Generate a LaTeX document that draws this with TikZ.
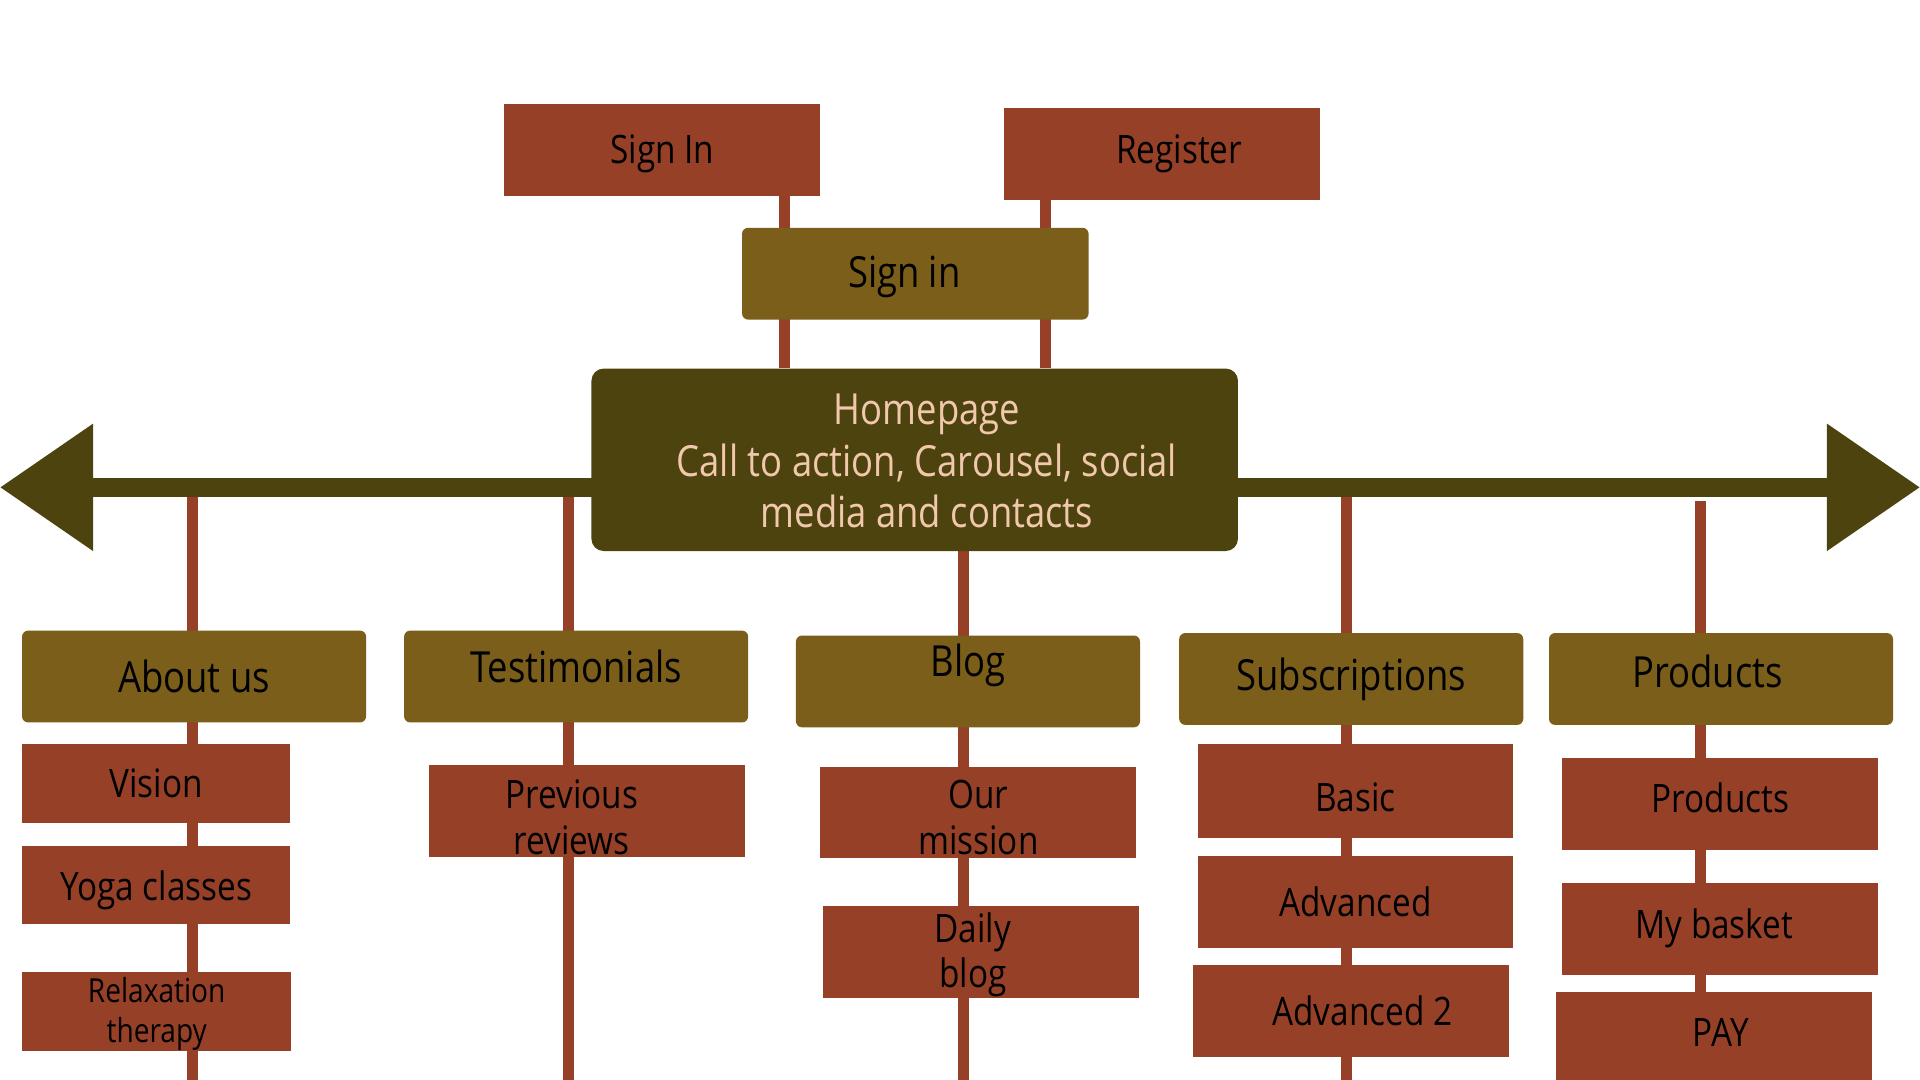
\documentclass[tikz,border=0pt]{standalone}
\usepackage{fontspec}
\setmainfont{Open Sans}[FakeStretch=0.85]
\usetikzlibrary{arrows.meta, backgrounds}

\definecolor{rust}{RGB}{150,64,40}
\definecolor{olive}{RGB}{122,94,26}
\definecolor{darkolive}{RGB}{77,67,15}
\definecolor{peach}{RGB}{242,200,172}

\begin{document}
\begin{tikzpicture}[x=1pt, y=-1pt,
   redtext/.style={align=center, font=\fontsize{32}{37}\selectfont},
   cattext/.style={align=center, font=\fontsize{35}{42}\selectfont},
   redbox/.style={redtext, fill=rust, inner sep=0pt, minimum width=258pt, minimum height=75pt},
   olivebox/.style={cattext, fill=olive, rounded corners=5pt, inner sep=0pt, minimum width=281pt, minimum height=75pt},
   homebox/.style={cattext, fill=darkolive, rounded corners=10pt, inner sep=0pt, minimum width=528pt, minimum height=149pt},
   link/.style={draw=rust, line width=9pt},
   bar/.style={draw=darkolive, line width=15pt, {Triangle[length=76pt,width=100pt]}-{Triangle[length=76pt,width=100pt]}}]
   \useasboundingbox (0,0) rectangle (1568,882);

   \coordinate (leftTip) at (0,398);
   \coordinate (rightTip) at (1568,398);
   \coordinate (linkA) at (641,0);
   \coordinate (linkB) at (854,0);
   \coordinate (colAbout) at (157,882);
   \coordinate (colTesti) at (464,882);
   \coordinate (colBlog) at (787,882);
   \coordinate (colSubs) at (1100,882);
   \coordinate (colProd) at (1389,882);

   \draw[bar] (leftTip) -- (rightTip);

   % sign in part
   \node (signIn)[redbox, label={[redtext, yshift=-3pt]center:Sign In}] at (541,122.5) {};
   \node (register)[redbox, label={[redtext, xshift=14pt]center:Register}] at (949,125.5) {};
   \node (signin)[olivebox, minimum width=283pt, label={[cattext, xshift=-9pt, yshift=-3pt]center:Sign in}] at (747.5,223.5) {};
   \node (home)[homebox, label={[cattext, text=peach, xshift=10pt, yshift=-1pt]center:Homepage\\Call to action, Carousel, social\\media and contacts}] at (747,375.5) {};

   % main sections
   \node (about)[olivebox] at (158.5,552.5) {About us};
   \node (testi)[olivebox, label={[cattext, yshift=8.5pt]center:Testimonials}] at (470.5,552.5) {};
   \node (blog)[olivebox, label={[cattext, yshift=13.5pt]center:Blog}] at (790.5,556.5) {};
   \node (subs)[olivebox] at (1103.5,554.5) {Subscriptions};
   \node (prod)[olivebox, label={[cattext, xshift=-11pt, yshift=6pt]center:Products}] at (1405.5,554.5) {};

   % sub pages
   \node (vision)[redbox, minimum width=219pt, minimum height=64pt] at (127.5,640) {Vision};
   \node (yoga)[redbox, minimum width=219pt, minimum height=64pt, label={[redtext, yshift=-4pt]center:Yoga classes}] at (127.5,723) {};
   \node (relax)[redbox, minimum width=220pt, minimum height=64pt, label={[align=center, font=\fontsize{27}{32}\selectfont, yshift=-2pt]center:Relaxation\\therapy}] at (128,826) {};
   \node (reviews)[redbox, label={[redtext, xshift=-12pt, yshift=-5pt]center:Previous\\reviews}] at (479,662.5) {};
   \node (mission)[redbox, label={[redtext, yshift=-4pt]center:Our\\mission}] at (799,663.5) {};
   \node (daily)[redbox, label={[redtext, xshift=-7pt, yshift=-2pt]center:Daily\\blog}] at (801.5,777.5) {};
   \node (basic)[redbox, minimum height=76pt, label={[redtext, yshift=-5pt]center:Basic}] at (1107,646) {};
   \node (adv)[redbox] at (1107,736.5) {Advanced};
   \node (advTwo)[redbox, label={[redtext, xshift=9pt]center:Advanced 2}] at (1103.5,825.5) {};
   \node (prodSub)[redbox, label={[redtext, yshift=5pt]center:Products}] at (1405,656.5) {};
   \node (basket)[redbox, label={[redtext, xshift=-5pt]center:My basket}] at (1405,758.5) {};
   \node (pay)[redbox, label={[redtext, xshift=6pt, yshift=4pt]center:PAY}] at (1399.5,847.5) {};

   \begin{pgfonlayer}{background}
      \fill[white] (0,0) rectangle (1568,882);
      \draw[link] (signIn.south -| linkA) -- (home.north -| linkA);
      \draw[link] (register.south -| linkB) -- (home.north -| linkB);
      \draw[link] (leftTip -| colAbout) -- (colAbout);
      \draw[link] (leftTip -| colTesti) -- (colTesti);
      \draw[link] (home.south -| colBlog) -- (colBlog);
      \draw[link] (leftTip -| colSubs) -- (colSubs);
      \draw[link] ([yshift=-11pt]leftTip -| colProd) -- (colProd);
   \end{pgfonlayer}
\end{tikzpicture}
\end{document}
